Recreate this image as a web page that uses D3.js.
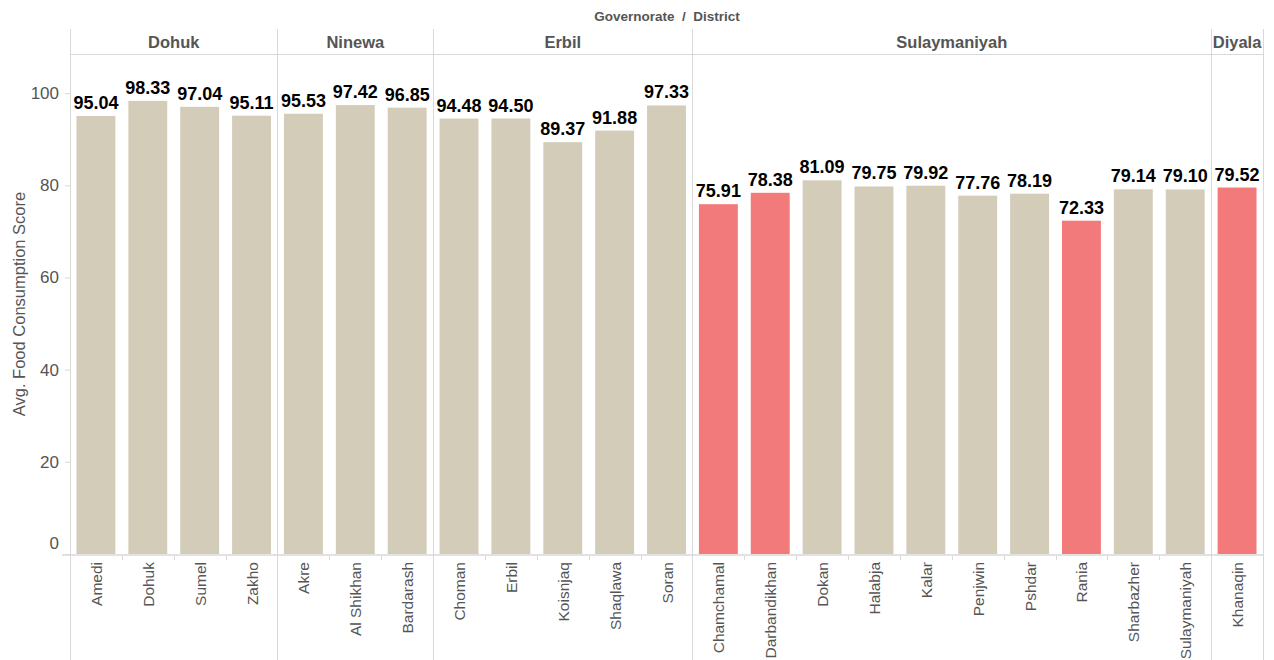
<!DOCTYPE html>
<html><head><meta charset="utf-8">
<script src="https://cdn.jsdelivr.net/npm/d3@7"></script>
<style>
html,body{margin:0;padding:0;background:#fff;}
svg{display:block;font-family:"Liberation Sans",Arial,sans-serif;}
</style></head>
<body>
<svg id="chart" width="1274" height="660"></svg>
<script>
const governorates = ["Dohuk","Ninewa","Erbil","Sulaymaniyah","Diyala"];
const districts = ["Amedi","Dohuk","Sumel","Zakho","Akre","Al Shikhan","Bardarash","Choman","Erbil","Koisnjaq","Shaqlawa","Soran","Chamchamal","Darbandikhan","Dokan","Halabja","Kalar","Penjwin","Pshdar","Rania","Sharbazher","Sulaymaniyah","Khanaqin"];
const districtGov = ["Dohuk","Dohuk","Dohuk","Dohuk","Ninewa","Ninewa","Ninewa","Erbil","Erbil","Erbil","Erbil","Erbil","Sulaymaniyah","Sulaymaniyah","Sulaymaniyah","Sulaymaniyah","Sulaymaniyah","Sulaymaniyah","Sulaymaniyah","Sulaymaniyah","Sulaymaniyah","Sulaymaniyah","Diyala"];
const scores = [95.04,98.33,97.04,95.11,95.53,97.42,96.85,94.48,94.50,89.37,91.88,97.33,75.91,78.38,81.09,79.75,79.92,77.76,78.19,72.33,79.14,79.10,79.52];
const highlighted = [false,false,false,false,false,false,false,false,false,false,false,false,true,true,false,false,false,false,false,true,false,false,true];
const yTicks = [0,20,40,60,80,100];

(function(){
const svg = d3.select("#chart");
const pL = 70, pR = 1263, pT = 54, pB = 554, headerTop = 29;
const keys = districts.map((d,i)=>i);
const x = d3.scaleBand().domain(keys).range([pL,pR]).paddingInner(0.25).paddingOuter(0.125);
const y = d3.scaleLinear().domain([0,108.5]).range([pB,pT]);
const step = x.step();
const grid = "#d9d9d9";

const panels = governorates.map(g=>{
  const idx = keys.filter(i=>districtGov[i]===g);
  const x0 = pL + idx[0]*step;
  return {g, x0, x1: x0 + idx.length*step};
});

svg.append("line").attr("x1",pL).attr("x2",pR).attr("y1",pT+0.5).attr("y2",pT+0.5).attr("stroke",grid);
const vx = panels.map(p=>p.x0).concat([pR]);
svg.selectAll(".vline").data(vx).join("line")
  .attr("x1",d=>Math.round(d)+0.5).attr("x2",d=>Math.round(d)+0.5)
  .attr("y1",headerTop).attr("y2",660).attr("stroke",grid);

svg.selectAll(".hdr").data(panels).join("text")
  .attr("x",p=>(p.x0+p.x1)/2).attr("y",48)
  .attr("text-anchor","middle").attr("font-size",16.5).attr("font-weight","bold").attr("fill","#555")
  .text(p=>p.g);
svg.append("text").attr("x",667).attr("y",21).attr("text-anchor","middle")
  .attr("font-size",13.5).attr("font-weight","bold").attr("fill","#555")
  .attr("xml:space","preserve").text("Governorate  /  District");

svg.selectAll(".bar").data(keys).join("rect")
  .attr("x",i=>x(i)).attr("width",x.bandwidth())
  .attr("y",i=>y(scores[i])).attr("height",i=>y(0)-y(scores[i]))
  .attr("fill",i=>highlighted[i]?"#F27A7A":"#D3CCB9");

svg.selectAll(".lbl").data(keys).join("text")
  .attr("x",i=>x(i)+x.bandwidth()/2).attr("y",i=>y(scores[i])-7)
  .attr("text-anchor","middle").attr("font-size",18).attr("font-weight","bold").attr("fill","#000")
  .text(i=>scores[i].toFixed(2));

svg.append("line").attr("x1",62).attr("x2",pR).attr("y1",pB+1).attr("y2",pB+1).attr("stroke",grid).attr("stroke-width",1.5);
const bounds = d3.range(1,districts.length).map(k=>pL+k*step);
svg.selectAll(".xt").data(bounds).join("line")
  .attr("x1",d=>Math.round(d)+0.5).attr("x2",d=>Math.round(d)+0.5)
  .attr("y1",pB+2).attr("y2",pB+6).attr("stroke",grid);
svg.selectAll(".xl").data(keys).join("text")
  .attr("transform",i=>`translate(${x(i)+x.bandwidth()/2+6},${pB+8}) rotate(-90)`)
  .attr("text-anchor","end").attr("font-size",15.5).attr("fill","#555")
  .text(i=>districts[i]);

const yg = svg.append("g").attr("transform",`translate(${pL},0)`)
  .call(d3.axisLeft(y).tickValues(yTicks).tickSize(5).tickPadding(6).tickFormat(d3.format("d")));
yg.select(".domain").remove();
yg.selectAll(".tick line").attr("stroke",grid);
yg.selectAll(".tick text").attr("font-size",17).attr("fill","#555").attr("font-family","Liberation Sans, Arial, sans-serif")
  .attr("dy",d=>d===0?"-0.35em":"0.32em");
svg.append("text").attr("transform","translate(25,304) rotate(-90)")
  .attr("text-anchor","middle").attr("font-size",16.5).attr("fill","#555")
  .text("Avg. Food Consumption Score");
})();
</script>
</body></html>
